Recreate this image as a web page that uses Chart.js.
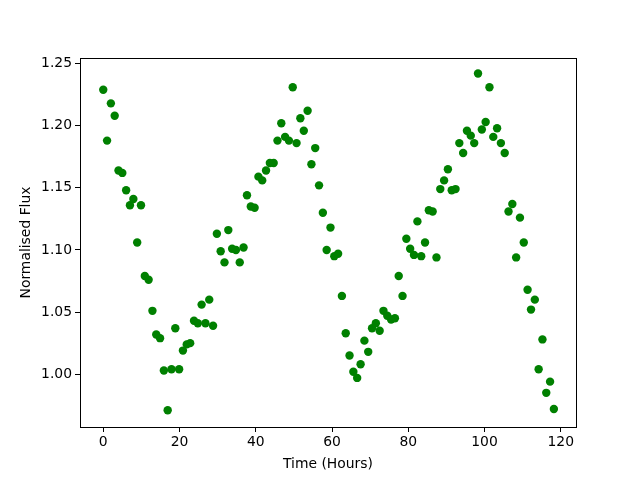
<!DOCTYPE html>
<html>
<head>
<meta charset="utf-8">
<script src="https://cdn.jsdelivr.net/npm/chart.js@4"></script>
<style>
  body { margin: 0; background: #fff; }
  #wrap { width: 640px; height: 480px; }
</style>
</head>
<body>
<div id="wrap"><canvas id="grafico"></canvas></div>
<script>
const horas = [
  0.0, 1.0, 2.0, 3.0, 4.0, 5.0, 6.0, 7.0, 7.9, 8.9,
  9.9, 10.9, 11.9, 12.9, 13.9, 14.9, 15.9, 16.9, 17.9, 18.9,
  19.9, 20.9, 21.9, 22.8, 23.8, 24.8, 25.8, 26.8, 27.8, 28.8,
  29.8, 30.8, 31.8, 32.8, 33.8, 34.8, 35.8, 36.8, 37.7, 38.7,
  39.7, 40.7, 41.7, 42.7, 43.7, 44.7, 45.7, 46.7, 47.7, 48.7,
  49.7, 50.7, 51.7, 52.6, 53.6, 54.6, 55.6, 56.6, 57.6, 58.6,
  59.6, 60.6, 61.6, 62.6, 63.6, 64.6, 65.6, 66.6, 67.5, 68.5,
  69.5, 70.5, 71.5, 72.5, 73.5, 74.5, 75.5, 76.5, 77.5, 78.5,
  79.5, 80.5, 81.5, 82.4, 83.4, 84.4, 85.4, 86.4, 87.4, 88.4,
  89.4, 90.4, 91.4, 92.4, 93.4, 94.4, 95.4, 96.4, 97.3, 98.3,
  99.3, 100.3, 101.3, 102.3, 103.3, 104.3, 105.3, 106.3, 107.3, 108.3,
  109.3, 110.3, 111.3, 112.2, 113.2, 114.2, 115.2, 116.2, 117.2, 118.2
];

const fluxo = [
  1.229, 1.188, 1.218, 1.208, 1.164, 1.162, 1.148, 1.136, 1.141, 1.106,
  1.136, 1.079, 1.076, 1.051, 1.032, 1.029, 1.003, 0.971, 1.004, 1.037,
  1.004, 1.019, 1.024, 1.025, 1.043, 1.041, 1.056, 1.041, 1.060, 1.039,
  1.113, 1.099, 1.090, 1.116, 1.101, 1.100, 1.090, 1.102, 1.144, 1.135,
  1.134, 1.159, 1.156, 1.164, 1.170, 1.170, 1.188, 1.202, 1.191, 1.188,
  1.231, 1.186, 1.206, 1.196, 1.212, 1.169, 1.182, 1.152, 1.130, 1.100,
  1.118, 1.095, 1.097, 1.063, 1.033, 1.015, 1.002, 0.997, 1.008, 1.027,
  1.018, 1.037, 1.041, 1.035, 1.051, 1.047, 1.044, 1.045, 1.079, 1.063,
  1.109, 1.101, 1.096, 1.123, 1.095, 1.106, 1.132, 1.131, 1.094, 1.149,
  1.156, 1.165, 1.148, 1.149, 1.186, 1.178, 1.196, 1.192, 1.186, 1.242,
  1.197, 1.203, 1.231, 1.191, 1.198, 1.186, 1.178, 1.131, 1.137, 1.094,
  1.126, 1.106, 1.068, 1.052, 1.060, 1.004, 1.028, 0.985, 0.994, 0.972
];

const ticksX = [0, 20, 40, 60, 80, 100, 120];
const ticksY = [1.00, 1.05, 1.10, 1.15, 1.20, 1.25];

const fonte = { family: "'DejaVu Sans', sans-serif", size: 13.9 };

// moldura fechada em volta da area do grafico, como no matplotlib
const moldura = {
  id: "moldura",
  afterDraw(chart) {
    const { ctx, chartArea } = chart;
    ctx.save();
    ctx.strokeStyle = "#000";
    ctx.lineWidth = 1;
    ctx.strokeRect(
      Math.round(chartArea.left) + 0.5,
      Math.round(chartArea.top) + 0.5,
      Math.round(chartArea.right - chartArea.left),
      Math.round(chartArea.bottom - chartArea.top)
    );
    ctx.restore();
  },
};

function criarGraficoScatter(canvasId) {
  const ctx = document.getElementById(canvasId).getContext("2d");
  const pontos = horas.map((h, i) => ({ x: h, y: fluxo[i] }));
  return new Chart(ctx, {
    type: "scatter",
    data: {
      datasets: [
        {
          data: pontos,
          backgroundColor: "#008000",
          borderColor: "#008000",
          borderWidth: 0,
          pointRadius: 4.2,
        },
      ],
    },
    options: {
      responsive: false,
      animation: false,
      layout: { padding: { left: 0, right: 64, top: 58, bottom: 0 } },
      plugins: { legend: { display: false }, tooltip: { enabled: false } },
      scales: {
        x: {
          type: "linear",
          min: -6.1,
          max: 124.0,
          afterBuildTicks: (axis) => {
            axis.ticks = ticksX.map((v) => ({ value: v }));
          },
          afterFit: (axis) => {
            axis.height = 53;
          },
          ticks: { color: "#000", font: fonte, padding: 2, maxRotation: 0 },
          grid: { display: true, drawOnChartArea: false, drawTicks: true, tickLength: 5, color: "#000" },
          border: { display: true, color: "#000" },
          title: { display: true, text: "Time (Hours)", color: "#000", font: fonte, padding: { top: 2, bottom: 7 } },
        },
        y: {
          type: "linear",
          min: 0.9575,
          max: 1.2545,
          afterBuildTicks: (axis) => {
            axis.ticks = ticksY.map((v) => ({ value: v }));
          },
          afterFit: (axis) => {
            axis.width = 80;
          },
          ticks: {
            color: "#000",
            font: fonte,
            padding: 3,
            callback: (v) => v.toFixed(2),
          },
          grid: { display: true, drawOnChartArea: false, drawTicks: true, tickLength: 5, color: "#000" },
          border: { display: true, color: "#000" },
          title: { display: true, text: "Normalised Flux", color: "#000", font: fonte, padding: { top: 18, bottom: 0 } },
        },
      },
    },
    plugins: [moldura],
  });
}

const canvas = document.getElementById("grafico");
canvas.width = 640;
canvas.height = 480;
criarGraficoScatter("grafico");
</script>
</body>
</html>
